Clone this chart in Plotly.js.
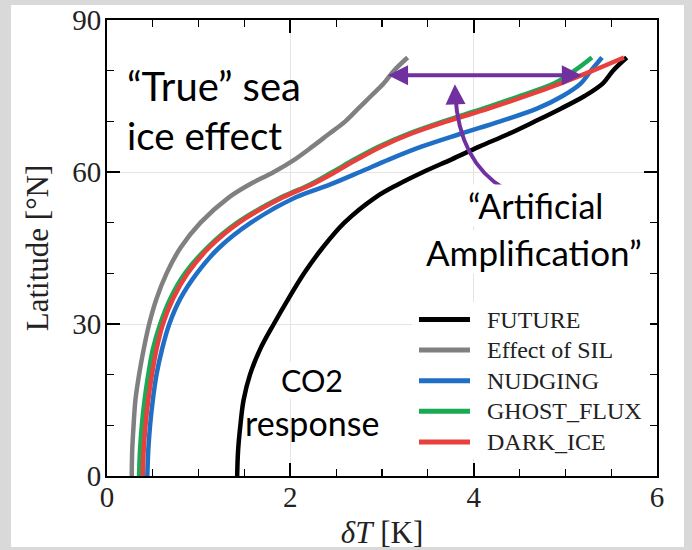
<!DOCTYPE html>
<html>
<head>
<meta charset="utf-8">
<script src="https://cdn.plot.ly/plotly-3.0.1.min.js"></script>
<style>
  html, body { margin: 0; padding: 0; background: #d9d9d9; }
  #chart { width: 692px; height: 550px; }
</style>
</head>
<body>
<div id="chart"></div>
<script>
// ---- data ----
const latitude = [0, 5, 10, 15, 20, 25, 30, 35, 40, 45, 50, 55, 57.5, 60, 62.5, 65, 67.5, 70, 72.5, 75, 77.5, 80, 82.6];

const seriesNames = ["FUTURE", "Effect of SIL", "NUDGING", "GHOST_FLUX", "DARK_ICE"];

const future     = [1.42, 1.43, 1.455, 1.49, 1.56, 1.67, 1.82, 1.98, 2.15, 2.35, 2.59, 2.93, 3.17, 3.45, 3.76, 4.06, 4.38, 4.67, 4.95, 5.21, 5.41, 5.52, 5.67];
const effectSIL  = [0.27, 0.275, 0.29, 0.31, 0.35, 0.40, 0.46, 0.54, 0.65, 0.80, 1.02, 1.33, 1.55, 1.82, 2.05, 2.24, 2.42, 2.60, 2.74, 2.88, 3.02, 3.13, 3.28];
const nudging    = [0.44, 0.45, 0.47, 0.50, 0.54, 0.60, 0.68, 0.80, 0.98, 1.22, 1.57, 2.06, 2.43, 2.76, 3.08, 3.43, 3.85, 4.29, 4.69, 4.97, 5.17, 5.28, 5.40];
const ghostFlux  = [0.35, 0.36, 0.38, 0.41, 0.45, 0.50, 0.58, 0.69, 0.85, 1.09, 1.42, 1.90, 2.21, 2.46, 2.70, 2.96, 3.28, 3.67, 4.10, 4.50, 4.88, 5.10, 5.29];
const darkIce    = [0.39, 0.40, 0.42, 0.45, 0.49, 0.54, 0.61, 0.72, 0.88, 1.11, 1.44, 1.92, 2.23, 2.49, 2.73, 2.99, 3.31, 3.71, 4.16, 4.57, 4.95, 5.30, 5.64];

const seriesValues = [future, effectSIL, nudging, ghostFlux, darkIce];
const seriesColors = ["#000000", "#808080", "#1f6fc6", "#1aaa55", "#e8403c"];

const xTickVals = [0, 2, 4, 6];
const yTickVals = [0, 30, 60, 90];

// ---- traces ----
const traces = seriesNames.map((name, i) => ({
  type: "scatter",
  mode: "lines",
  name: name,
  x: seriesValues[i],
  y: latitude,
  line: { color: seriesColors[i], width: 4.5, shape: "spline", smoothing: 1 },
  hoverinfo: "skip",
  showlegend: false
}));

const serif = "'Liberation Serif', 'Times New Roman', serif";
const sans = "Lato, 'Open Sans', sans-serif";
const purple = "#7030A0";

const axisCommon = {
  showline: true, linecolor: "#000", linewidth: 2, mirror: "allticks",
  ticks: "inside", ticklen: 13, tickwidth: 2, tickcolor: "#000",
  showgrid: true, gridcolor: "#e4e4e4", gridwidth: 1, zeroline: false,
  tickfont: { family: serif, size: 29, color: "#222" },
  fixedrange: true
};

// plot-area geometry (px) used to place the hand-built legend
const plotLeft = 107, plotW = 550, plotTop = 20, plotH = 456;
const px2x = p => (p - plotLeft) / plotW;
const px2y = p => (plotTop + plotH - p) / plotH;

const legendFirstY = 319.5, legendStep = 30.6;
const legendShapes = seriesNames.map((name, i) => ({
  type: "line", xref: "paper", yref: "paper",
  x0: px2x(419), x1: px2x(470),
  y0: px2y(legendFirstY + i * legendStep), y1: px2y(legendFirstY + i * legendStep),
  line: { color: seriesColors[i], width: 5 }, layer: "above"
}));
const legendTexts = seriesNames.map((name, i) => ({
  xref: "paper", yref: "paper", x: px2x(485), y: px2y(legendFirstY + i * legendStep),
  xanchor: "left", yanchor: "middle", showarrow: false, text: name,
  font: { family: serif, size: 24, color: "#222" }
}));

const layout = {
  width: 692, height: 550,
  margin: { l: 107, r: 35, t: 20, b: 74 },
  paper_bgcolor: "#d9d9d9",
  plot_bgcolor: "#ffffff",
  showlegend: false,
  xaxis: Object.assign({}, axisCommon, {
    range: [0, 6], tickvals: xTickVals, ticktext: xTickVals.map(String),
    minor: { dtick: 0.5, ticks: "inside", ticklen: 7, tickwidth: 1.3, tickcolor: "#000", showgrid: false },
    ticklabelstandoff: -6,
    title: { text: "<i>δT</i> [K]", font: { family: serif, size: 31, color: "#222" }, standoff: 10 }
  }),
  yaxis: Object.assign({}, axisCommon, {
    range: [0, 90], tickvals: yTickVals, ticktext: yTickVals.map(String),
    minor: { dtick: 10, ticks: "inside", ticklen: 7, tickwidth: 1.3, tickcolor: "#000", showgrid: false },
    ticklabelstandoff: -2,
    title: { text: "Latitude [°N]", font: { family: serif, size: 31, color: "#222" }, standoff: 14 }
  }),
  shapes: [
    // white card inside the gray frame
    { type: "rect", xref: "paper", yref: "paper", x0: px2x(11), x1: px2x(684), y0: px2y(547), y1: px2y(5),
      fillcolor: "#ffffff", line: { width: 0 }, layer: "below" },
    // legend background
    { type: "rect", xref: "paper", yref: "paper", x0: px2x(412), x1: px2x(650), y0: px2y(459), y1: px2y(302),
      fillcolor: "#ffffff", line: { width: 0 }, layer: "above" },
    // curved purple arrow shaft
    { type: "path", xref: "x", yref: "y", path: "M 4.34,56.6 Q 3.84,62 3.80,75.2",
      line: { color: purple, width: 4 }, layer: "above" }
  ].concat(legendShapes),
  annotations: [
    { x: 5.18, y: 79.1, ax: 3.05, ay: 79.1, xref: "x", yref: "y", axref: "x", ayref: "y",
      text: "", showarrow: true, arrowhead: 2, arrowside: "end+start", arrowsize: 1, arrowwidth: 4, arrowcolor: purple },
    { x: 3.795, y: 77.3, ax: 3.80, ay: 74.5, xref: "x", yref: "y", axref: "x", ayref: "y",
      text: "", showarrow: true, arrowhead: 2, arrowsize: 1, arrowwidth: 4, arrowcolor: purple },
    { x: 0.196, y: 77.0, xref: "x", yref: "y", xanchor: "left", yanchor: "middle", showarrow: false,
      text: "“True” sea", font: { family: sans, size: 40, color: "#000" } },
    { x: 0.196, y: 67.4, xref: "x", yref: "y", xanchor: "left", yanchor: "middle", showarrow: false,
      text: "ice effect", font: { family: sans, size: 38.5, color: "#000" } },
    { x: 4.67, y: 53.3, xref: "x", yref: "y", xanchor: "center", yanchor: "middle", showarrow: false,
      text: "“Artificial", font: { family: sans, size: 34, color: "#000" }, bgcolor: "#ffffff", borderpad: 0 },
    { x: 4.66, y: 44.2, xref: "x", yref: "y", xanchor: "center", yanchor: "middle", showarrow: false,
      text: "Amplification”", font: { family: sans, size: 35, color: "#000" }, bgcolor: "#ffffff", borderpad: 0 },
    { x: 2.24, y: 19.0, xref: "x", yref: "y", xanchor: "center", yanchor: "middle", showarrow: false,
      text: "CO2", font: { family: sans, size: 30.5, color: "#000" }, bgcolor: "#ffffff", borderpad: 0 },
    { x: 2.24, y: 10.5, xref: "x", yref: "y", xanchor: "center", yanchor: "middle", showarrow: false,
      text: "response", font: { family: sans, size: 34, color: "#000" } }
  ].concat(legendTexts)
};

Plotly.newPlot("chart", traces, layout, { staticPlot: true, displayModeBar: false });
</script>
</body>
</html>
